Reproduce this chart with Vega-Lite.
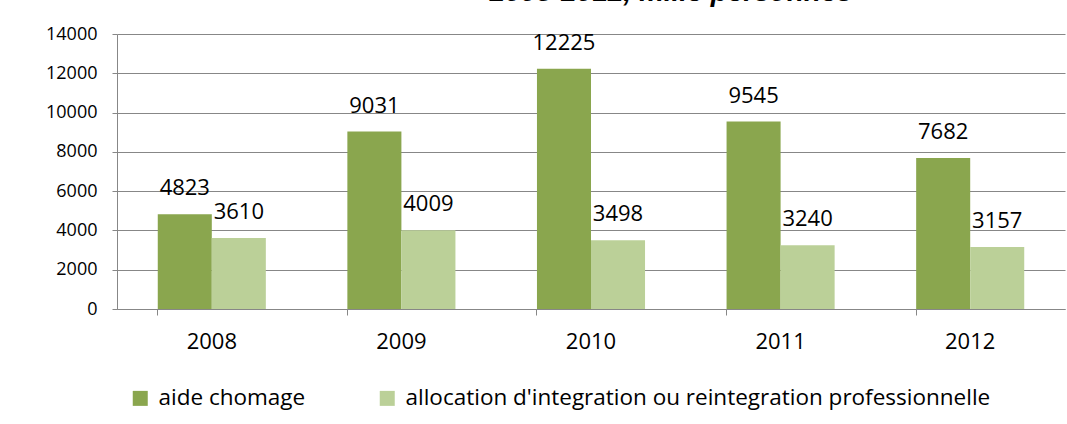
{
  "$schema": "https://vega.github.io/schema/vega-lite/v6.json",
  "width": 948,
  "height": 275,
  "autosize": {"type": "none"},
  "padding": {"left": 117, "top": 34, "right": 2, "bottom": 115},
  "background": "white",
  "title": {
    "text": "2008-2012, mille personnes",
    "font": "Liberation Sans",
    "fontSize": 28,
    "fontWeight": "bold",
    "fontStyle": "italic",
    "color": "black",
    "anchor": "middle",
    "frame": "group",
    "baseline": "alphabetic",
    "offset": -4,
    "dx": 80
  },
  "data": {
    "values": [
      {"year": "2008", "series": "aide chomage", "value": 4823},
      {"year": "2008", "series": "allocation d'integration ou reintegration professionnelle", "value": 3610},
      {"year": "2009", "series": "aide chomage", "value": 9031},
      {"year": "2009", "series": "allocation d'integration ou reintegration professionnelle", "value": 4009},
      {"year": "2010", "series": "aide chomage", "value": 12225},
      {"year": "2010", "series": "allocation d'integration ou reintegration professionnelle", "value": 3498},
      {"year": "2011", "series": "aide chomage", "value": 9545},
      {"year": "2011", "series": "allocation d'integration ou reintegration professionnelle", "value": 3240},
      {"year": "2012", "series": "aide chomage", "value": 7682},
      {"year": "2012", "series": "allocation d'integration ou reintegration professionnelle", "value": 3157}
    ]
  },
  "encoding": {
    "x": {
      "field": "year",
      "type": "nominal",
      "scale": {"paddingInner": 0.43, "paddingOuter": 0.215},
      "axis": {
        "title": null,
        "labelAngle": 0,
        "labelFont": "Open Sans",
        "labelFontSize": 22,
        "labelColor": "black",
        "labelPadding": 16,
        "bandPosition": 0,
        "tickSize": 6,
        "tickColor": "#878787",
        "domainColor": "#878787",
        "grid": false
      }
    },
    "xOffset": {
      "field": "series",
      "type": "nominal",
      "sort": ["aide chomage", "allocation d'integration ou reintegration professionnelle"],
      "scale": {"paddingInner": 0, "paddingOuter": 0}
    },
    "y": {
      "field": "value",
      "type": "quantitative",
      "scale": {"domain": [0, 14000], "nice": false},
      "axis": {
        "title": null,
        "values": [0, 2000, 4000, 6000, 8000, 10000, 12000, 14000],
        "format": "d",
        "labelFont": "Open Sans",
        "labelFontSize": 18,
        "labelColor": "black",
        "labelPadding": 15,
        "tickSize": 5,
        "tickColor": "#878787",
        "domainColor": "#878787",
        "gridColor": "#878787",
        "gridWidth": 1.2
      }
    }
  },
  "layer": [
    {
      "mark": {"type": "bar"},
      "encoding": {
        "color": {
          "field": "series",
          "type": "nominal",
          "sort": ["aide chomage", "allocation d'integration ou reintegration professionnelle"],
          "scale": {"range": ["#8AA64E", "#BBD098"]},
          "legend": {
            "title": null,
            "orient": "none",
            "direction": "horizontal",
            "legendX": 12,
            "legendY": 353,
            "symbolType": "square",
            "symbolSize": 225,
            "symbolStrokeWidth": 0,
            "labelFont": "Open Sans",
            "labelFontSize": 22.5,
            "labelColor": "black",
            "labelLimit": 900,
            "labelOffset": 7,
            "columnPadding": 70
          }
        }
      }
    },
    {
      "mark": {"type": "text", "baseline": "alphabetic", "dy": -19, "font": "Open Sans", "fontSize": 22, "color": "black"},
      "encoding": {
        "text": {"field": "value", "type": "quantitative", "format": "d"}
      }
    }
  ],
  "config": {
    "view": {"stroke": null}
  }
}
